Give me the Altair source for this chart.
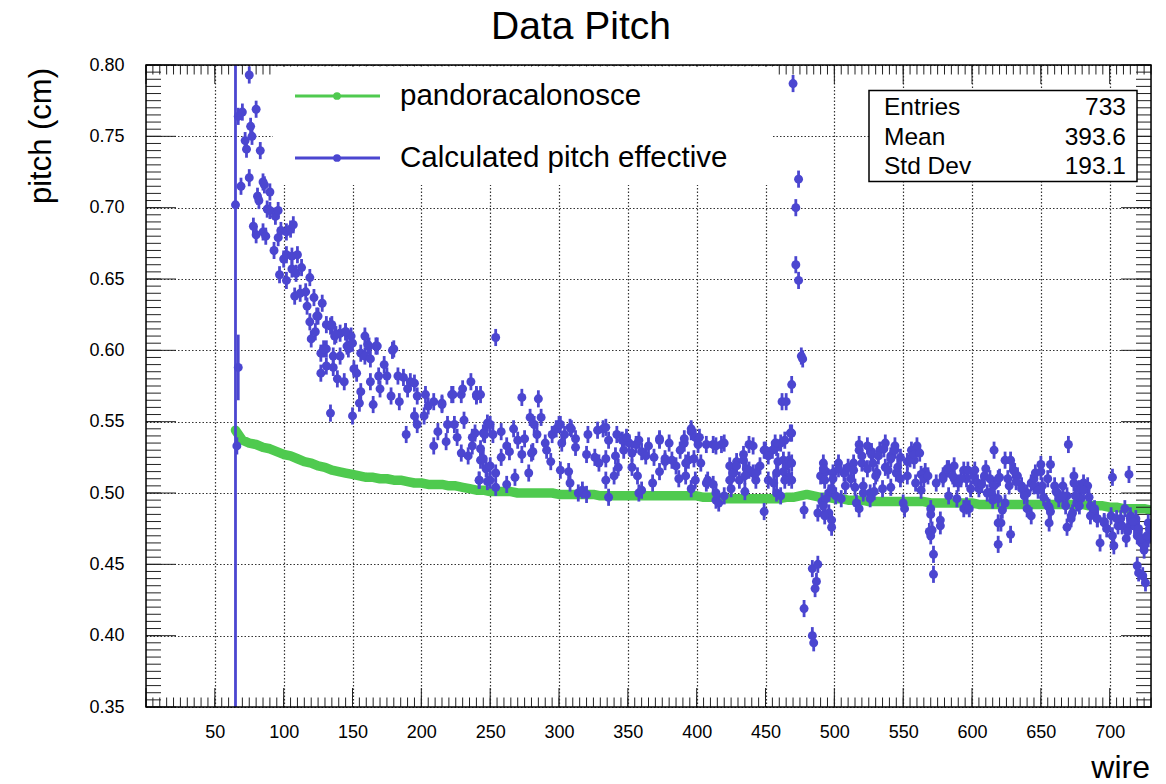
import altair as alt
import pandas as pd

# ---------------- data ----------------
green_wire = list(range(65, 731, 5))
green_pitch = [
    0.544, 0.537, 0.535, 0.534, 0.532, 0.531, 0.529, 0.527, 0.526, 0.524,
    0.522, 0.521, 0.519, 0.518, 0.516, 0.515, 0.514, 0.513, 0.512, 0.511,
    0.511, 0.510, 0.510, 0.509, 0.509, 0.508, 0.507, 0.507, 0.506, 0.506,
    0.506, 0.505, 0.505, 0.504, 0.503, 0.502, 0.502, 0.501, 0.501, 0.501,
    0.501, 0.500, 0.500, 0.500, 0.500, 0.500, 0.500, 0.499, 0.499, 0.499,
    0.499, 0.499, 0.499, 0.498, 0.498, 0.498, 0.498, 0.498, 0.498, 0.498,
    0.498, 0.498, 0.498, 0.498, 0.498, 0.498, 0.498, 0.498, 0.497, 0.497,
    0.497, 0.496, 0.496, 0.496, 0.496, 0.496, 0.496, 0.496, 0.496, 0.496,
    0.497, 0.497, 0.498, 0.499, 0.498, 0.497, 0.497, 0.496, 0.496, 0.495,
    0.495, 0.495, 0.494, 0.494, 0.494, 0.494, 0.494, 0.494, 0.494, 0.494,
    0.494, 0.493, 0.493, 0.493, 0.493, 0.493, 0.493, 0.493, 0.492, 0.492,
    0.492, 0.492, 0.492, 0.492, 0.492, 0.492, 0.492, 0.492, 0.492, 0.492,
    0.492, 0.492, 0.492, 0.492, 0.491, 0.491, 0.491, 0.490, 0.490, 0.489,
    0.489, 0.489, 0.489, 0.488,
]

# (wire, pitch, error) points with unusual errors
blue_special = [(65, 0.702, 0.5), (67, 0.588, 0.023)]

blue_head = [
    (66, 0.533), (67, 0.764), (69, 0.715), (70, 0.767), (72, 0.747), (73, 0.741), (75, 0.793), (75, 0.721),
    (76, 0.757), (77, 0.750), (78, 0.687), (80, 0.769), (80, 0.681), (81, 0.708), (82, 0.705), (83, 0.740),
    (85, 0.718), (85, 0.683), (86, 0.716), (87, 0.680), (88, 0.699), (90, 0.711), (90, 0.698), (93, 0.670),
    (94, 0.694), (96, 0.698), (96, 0.679), (97, 0.653), (98, 0.684), (100, 0.664), (102, 0.683), (102, 0.667),
    (102, 0.649), (105, 0.685), (106, 0.666), (106, 0.657), (107, 0.688), (108, 0.638), (109, 0.654), (110, 0.667),
    (112, 0.640), (113, 0.658), (116, 0.641), (117, 0.631), (119, 0.651), (119, 0.620), (120, 0.608), (122, 0.637),
    (123, 0.613), (125, 0.624), (127, 0.598), (128, 0.633), (131, 0.618), (131, 0.601), (134, 0.617), (137, 0.610),
    (141, 0.612), (145, 0.613), (146, 0.603), (149, 0.610),
]

blue_fall = [
    (124, 0.624), (135, 0.618), (129, 0.601), (127, 0.584), (131, 0.589), (136, 0.596), (136, 0.588), (138, 0.611),
    (139, 0.580), (141, 0.596), (144, 0.578), (145, 0.613), (147, 0.601), (150, 0.605), (134, 0.556), (150, 0.554),
    (151, 0.587), (153, 0.584), (155, 0.563), (156, 0.571), (156, 0.598), (159, 0.596), (159, 0.610), (161, 0.604),
    (162, 0.603), (163, 0.594), (163, 0.578), (165, 0.562), (167, 0.603), (168, 0.603), (169, 0.582), (170, 0.573),
    (173, 0.590), (175, 0.582), (178, 0.568), (179, 0.600), (180, 0.601), (183, 0.582), (184, 0.564), (187, 0.581),
    (189, 0.541), (190, 0.573), (192, 0.578), (195, 0.577), (195, 0.554), (197, 0.568), (197, 0.548), (202, 0.554),
    (203, 0.569), (205, 0.561), (209, 0.564), (209, 0.533), (212, 0.543), (215, 0.563), (215, 0.562), (218, 0.536),
    (219, 0.548), (222, 0.569), (223, 0.569), (224, 0.548), (226, 0.539), (229, 0.569), (229, 0.528), (230, 0.573),
    (231, 0.551), (234, 0.526), (236, 0.578), (237, 0.539), (240, 0.569), (240, 0.568), (243, 0.569), (243, 0.523),
    (245, 0.542), (247, 0.517), (248, 0.549), (242, 0.509), (250, 0.509),
]

blue_mid = [
    (254, 0.609), (273, 0.567), (285, 0.566), (287, 0.553), (279, 0.553), (282, 0.548), (250, 0.548), (246, 0.541),
    (252, 0.541), (258, 0.543), (239, 0.542), (237, 0.533), (243, 0.531), (245, 0.524), (250, 0.519), (254, 0.514),
    (258, 0.525), (262, 0.533), (264, 0.529), (267, 0.545), (270, 0.537), (273, 0.527), (275, 0.538), (281, 0.529),
    (284, 0.541), (290, 0.535), (295, 0.541), (298, 0.545), (301, 0.548), (304, 0.541), (309, 0.545), (312, 0.538),
    (321, 0.541), (328, 0.544), (332, 0.545), (336, 0.537), (342, 0.541), (346, 0.537), (351, 0.535), (356, 0.534),
    (360, 0.529), (365, 0.533), (373, 0.537), (380, 0.535), (391, 0.538), (396, 0.545),
    (242, 0.509), (248, 0.508), (254, 0.504), (262, 0.506), (268, 0.511), (278, 0.514), (294, 0.522), (301, 0.516),
    (307, 0.515), (308, 0.507), (314, 0.500), (317, 0.502), (320, 0.499), (336, 0.497), (329, 0.521), (334, 0.509),
    (340, 0.512), (343, 0.518), (353, 0.518), (357, 0.512), (358, 0.500), (360, 0.502), (368, 0.507), (373, 0.515),
    (377, 0.522), (385, 0.519), (387, 0.510), (392, 0.512),
    (300, 0.548), (308, 0.546), (334, 0.546), (349, 0.539), (358, 0.537), (373, 0.538),
    (280, 0.528), (291, 0.530), (302, 0.535), (312, 0.532), (320, 0.527), (326, 0.525), (334, 0.524), (341, 0.526),
    (347, 0.530), (353, 0.528), (363, 0.526), (369, 0.525), (377, 0.524), (382, 0.523), (388, 0.530), (392, 0.521),
]

blue_late = [
    (391, 0.535), (396, 0.543), (399, 0.539), (401, 0.534), (407, 0.534), (412, 0.534), (418, 0.534), (438, 0.534),
    (402, 0.539), (414, 0.533), (420, 0.535), (441, 0.533), (449, 0.530), (458, 0.532), (464, 0.537), (469, 0.542),
    (394, 0.523), (398, 0.524), (403, 0.521), (396, 0.503), (408, 0.509), (412, 0.506), (414, 0.495), (420, 0.498),
    (424, 0.519), (429, 0.522), (434, 0.527), (427, 0.514), (431, 0.509), (436, 0.517), (441, 0.514), (443, 0.509),
    (425, 0.503), (435, 0.501), (399, 0.509), (407, 0.507), (414, 0.500), (416, 0.493), (424, 0.509), (429, 0.519),
    (434, 0.523), (438, 0.516), (435, 0.512), (443, 0.514), (446, 0.519), (452, 0.509), (456, 0.507), (458, 0.500),
    (461, 0.498), (449, 0.487), (458, 0.514), (465, 0.519), (469, 0.509), (463, 0.523),
]

blue_spike = [
    (470, 0.787), (474, 0.720), (472, 0.700), (472, 0.660), (474, 0.649), (476, 0.596), (477, 0.594), (469, 0.576),
    (462, 0.564), (465, 0.564), (468, 0.542), (461, 0.535), (457, 0.535), (455, 0.530), (450, 0.530), (452, 0.526),
    (459, 0.522), (463, 0.515), (467, 0.523), (469, 0.521), (467, 0.511), (464, 0.509), (478, 0.488), (484, 0.447),
    (488, 0.450), (487, 0.438), (486, 0.433), (478, 0.419), (484, 0.400), (485, 0.395),
]

blue_tail1 = [
    (488, 0.486), (491, 0.494), (492, 0.521), (490, 0.512), (494, 0.515), (498, 0.481), (499, 0.514), (503, 0.521),
    (496, 0.500), (501, 0.498), (507, 0.514), (510, 0.518), (514, 0.521), (516, 0.493), (518, 0.534), (520, 0.526),
    (521, 0.505), (526, 0.500), (524, 0.533), (527, 0.529), (528, 0.521), (531, 0.514), (533, 0.530), (537, 0.535),
    (541, 0.526), (539, 0.516), (544, 0.533), (548, 0.525), (545, 0.514), (550, 0.493), (553, 0.522), (556, 0.530),
    (558, 0.523), (560, 0.533), (559, 0.507), (563, 0.502), (566, 0.515), (570, 0.489), (569, 0.473), (572, 0.457),
    (572, 0.443), (577, 0.481), (571, 0.474), (579, 0.512), (583, 0.517), (587, 0.510), (590, 0.507), (594, 0.516),
    (596, 0.510), (599, 0.503), (601, 0.512), (605, 0.503), (609, 0.512), (611, 0.500), (615, 0.495), (583, 0.498),
    (589, 0.496), (596, 0.491), (594, 0.489),
    (492, 0.517), (493, 0.509), (499, 0.510), (503, 0.517), (498, 0.503), (494, 0.496), (496, 0.486), (498, 0.476),
    (505, 0.496), (508, 0.505), (512, 0.510), (514, 0.516), (518, 0.530), (515, 0.504), (520, 0.521), (524, 0.517),
    (527, 0.527), (530, 0.512), (532, 0.526), (536, 0.531), (537, 0.518), (541, 0.524), (544, 0.530), (546, 0.518),
    (548, 0.510), (541, 0.504), (535, 0.503), (529, 0.501), (521, 0.500), (518, 0.489), (526, 0.496), (551, 0.489),
    (553, 0.512), (555, 0.524), (558, 0.527), (562, 0.528), (563, 0.513), (565, 0.510), (568, 0.512), (570, 0.485),
    (574, 0.507), (577, 0.477), (570, 0.470), (579, 0.510), (582, 0.517), (586, 0.512), (587, 0.519), (592, 0.510),
    (597, 0.516), (602, 0.516), (604, 0.507), (598, 0.489), (607, 0.506), (610, 0.517), (613, 0.510), (616, 0.505),
    (619, 0.510), (615, 0.498), (619, 0.479), (492, 0.491), (493, 0.484),
]

blue_tail2 = [
    (616, 0.530), (620, 0.511), (624, 0.523), (628, 0.523), (630, 0.516), (622, 0.488), (621, 0.479), (628, 0.471),
    (619, 0.464), (626, 0.510), (633, 0.512), (636, 0.505), (640, 0.500), (643, 0.507), (645, 0.510), (650, 0.520),
    (646, 0.514), (651, 0.505), (655, 0.510), (657, 0.520), (660, 0.505), (662, 0.500), (666, 0.505), (669, 0.498),
    (674, 0.512), (678, 0.503), (681, 0.507), (684, 0.505), (656, 0.490), (656, 0.479), (669, 0.476), (673, 0.486),
    (672, 0.482), (676, 0.493), (679, 0.496), (670, 0.534), (686, 0.491), (689, 0.486), (691, 0.482), (693, 0.465),
    (696, 0.479), (698, 0.475), (702, 0.470), (703, 0.463), (706, 0.477), (708, 0.482), (712, 0.468), (713, 0.475),
    (715, 0.482), (718, 0.477), (720, 0.470), (723, 0.465), (725, 0.460), (728, 0.468), (729, 0.475), (728, 0.479),
    (725, 0.463), (702, 0.511), (714, 0.513), (719, 0.482), (721, 0.444), (724, 0.442), (726, 0.437), (720, 0.449),
    (614, 0.501), (619, 0.496), (624, 0.493), (627, 0.505), (632, 0.508), (636, 0.503), (638, 0.498), (640, 0.489),
    (643, 0.484), (645, 0.505), (648, 0.502), (652, 0.497), (655, 0.491), (657, 0.487), (661, 0.501), (663, 0.496),
    (666, 0.498), (668, 0.491), (672, 0.484), (675, 0.498), (678, 0.491), (681, 0.502), (685, 0.497), (686, 0.484),
    (689, 0.489), (691, 0.482), (696, 0.480), (698, 0.475), (701, 0.484), (705, 0.482), (709, 0.477), (713, 0.473),
    (715, 0.484), (717, 0.480), (721, 0.475), (723, 0.468), (727, 0.470), (729, 0.475), (711, 0.489), (631, 0.515),
    (650, 0.515), (674, 0.507),
]

BLUE_ERR = 0.006

x_label_values = list(range(50, 701, 50))
x_major = list(range(0, 731, 50))
x_minor = list(range(0, 731, 5))
y_major = [round(0.35 + 0.05 * i, 3) for i in range(10)]
y_minor = [round(0.35 + 0.005 * i, 3) for i in range(91)]

stats_labels = ["Entries", "Mean", "Std Dev"]
stats_values = ["733", "393.6", "193.1"]
legend_labels = ["pandoracalonosce", "Calculated pitch effective"]

# ---------------- style ----------------
W, H = 1005, 642
BLUE = "#4b46d0"
GREEN = "#4fca4f"
FONT = "Liberation Sans"

xs = alt.Scale(domain=[0, 730], nice=False, zero=False)
ys = alt.Scale(domain=[0.35, 0.80], nice=False, zero=False)

AX_X = alt.Axis(
    values=x_label_values, format="d", grid=True, ticks=False, domain=False,
    labelFontSize=18, labelFont=FONT, labelColor="black", labelPadding=16, title=None,
    gridColor="#333", gridDash=[1.5, 2], gridWidth=1.2)
AX_Y = alt.Axis(
    values=y_major, format=".2f", grid=True, ticks=False, domain=False,
    labelFontSize=18, labelFont=FONT, labelColor="black", labelPadding=22, title=None,
    gridColor="#333", gridDash=[1.5, 2], gridWidth=1.2)


def X(field):
    return alt.X(field, scale=xs, axis=AX_X)


def Y(field):
    return alt.Y(field, scale=ys, axis=AX_Y)


green_df = pd.DataFrame({"wire": green_wire, "pitch": green_pitch})
rows = []
for group in (blue_head, blue_fall, blue_mid, blue_late, blue_spike, blue_tail1, blue_tail2):
    for w, p in group:
        rows.append((w, p, BLUE_ERR))
rows += blue_special
blue_df = pd.DataFrame(rows, columns=["wire", "pitch", "err"])
blue_df["lo"] = blue_df["pitch"] - blue_df["err"]
blue_df["hi"] = blue_df["pitch"] + blue_df["err"]

one = pd.DataFrame({"d": [0]})

green_line = alt.Chart(green_df).mark_line(
    color=GREEN, strokeWidth=9.5, strokeCap="round", strokeJoin="round", clip=True
).encode(x=X("wire:Q"), y=Y("pitch:Q"))


def xticks(values, length, top):
    df = pd.DataFrame({"v": values})
    if top:
        y1, y2 = 0, length
    else:
        y1, y2 = H, H - length
    return alt.Chart(df).mark_rule(color="#222", strokeWidth=1).encode(
        x=X("v:Q"), y=alt.value(y1), y2=alt.value(y2))


def yticks(values, length, right):
    df = pd.DataFrame({"v": values})
    if right:
        x1, x2 = W, W - length
    else:
        x1, x2 = 0, length
    return alt.Chart(df).mark_rule(color="#222", strokeWidth=1).encode(
        y=Y("v:Q"), x=alt.value(x1), x2=alt.value(x2))


ticks = [
    xticks(x_minor, 9.5, False), xticks(x_major, 19, False),
    xticks(x_minor, 9.5, True), xticks(x_major, 19, True),
    yticks(y_minor, 15, False), yticks(y_major, 30, False),
    yticks(y_minor, 15, True), yticks(y_major, 30, True),
]

err_bars = alt.Chart(blue_df).mark_rule(color=BLUE, strokeWidth=2.8, clip=True).encode(
    x=X("wire:Q"), y=Y("lo:Q"), y2="hi:Q")
blue_pts = alt.Chart(blue_df).mark_circle(color=BLUE, size=80, opacity=1, clip=True).encode(
    x=X("wire:Q"), y=Y("pitch:Q"))

# legend
leg_box = alt.Chart(one).mark_rect(fill="white").encode(
    x=alt.value(127), x2=alt.value(627), y=alt.value(1.5), y2=alt.value(120))
leg_items = []
for i, (lab, col) in enumerate(zip(legend_labels, [GREEN, BLUE])):
    yy = 31 + 62 * i
    leg_items.append(alt.Chart(one).mark_rule(color=col, strokeWidth=3).encode(
        x=alt.value(149), x2=alt.value(234), y=alt.value(yy)))
    leg_items.append(alt.Chart(one).mark_circle(color=col, size=60, opacity=1).encode(
        x=alt.value(191), y=alt.value(yy)))
    leg_items.append(alt.Chart(pd.DataFrame({"t": [lab]})).mark_text(
        font=FONT, fontSize=29.5, align="left", baseline="middle", color="black").encode(
        text="t:N", x=alt.value(254), y=alt.value(yy)))

# stats box
stats_box = alt.Chart(one).mark_rect(fill="white", stroke="black", strokeWidth=1.5).encode(
    x=alt.value(723), x2=alt.value(991), y=alt.value(25.5), y2=alt.value(116.5))
stats_items = []
for i, (lab, val) in enumerate(zip(stats_labels, stats_values)):
    yy = 43 + 29.5 * i
    stats_items.append(alt.Chart(pd.DataFrame({"t": [lab]})).mark_text(
        font=FONT, fontSize=24.5, align="left", baseline="middle", color="black").encode(
        text="t:N", x=alt.value(738), y=alt.value(yy)))
    stats_items.append(alt.Chart(pd.DataFrame({"t": [val]})).mark_text(
        font=FONT, fontSize=24.5, align="right", baseline="middle", color="black").encode(
        text="t:N", x=alt.value(980), y=alt.value(yy)))

frame = alt.Chart(one).mark_rect(fillOpacity=0, stroke="black", strokeWidth=1.5).encode(
    x=alt.value(0), x2=alt.value(W), y=alt.value(0), y2=alt.value(H))

title = alt.Chart(pd.DataFrame({"t": ["Data Pitch"]})).mark_text(
    font=FONT, fontSize=39, align="center", baseline="middle", color="black").encode(
    text="t:N", x=alt.value(435), y=alt.value(-38))
ytitle = alt.Chart(pd.DataFrame({"t": ["pitch (cm)"]})).mark_text(
    font=FONT, fontSize=31, align="right", baseline="middle", angle=270, color="black").encode(
    text="t:N", x=alt.value(-104), y=alt.value(3))
xtitle = alt.Chart(pd.DataFrame({"t": ["wire"]})).mark_text(
    font=FONT, fontSize=32, align="right", baseline="middle", color="black").encode(
    text="t:N", x=alt.value(1004), y=alt.value(703))

chart = alt.layer(
    green_line, *ticks, err_bars, blue_pts, leg_box, *leg_items, stats_box, *stats_items,
    frame, title, ytitle, xtitle,
).properties(
    width=W, height=H,
    autosize=alt.AutoSizeParams(type="none"),
    padding={"left": 146, "top": 65, "right": 15, "bottom": 77},
).configure_view(stroke=None).configure(background="white")

chart.save("out.html", embed_options={"renderer": "svg", "actions": False})
